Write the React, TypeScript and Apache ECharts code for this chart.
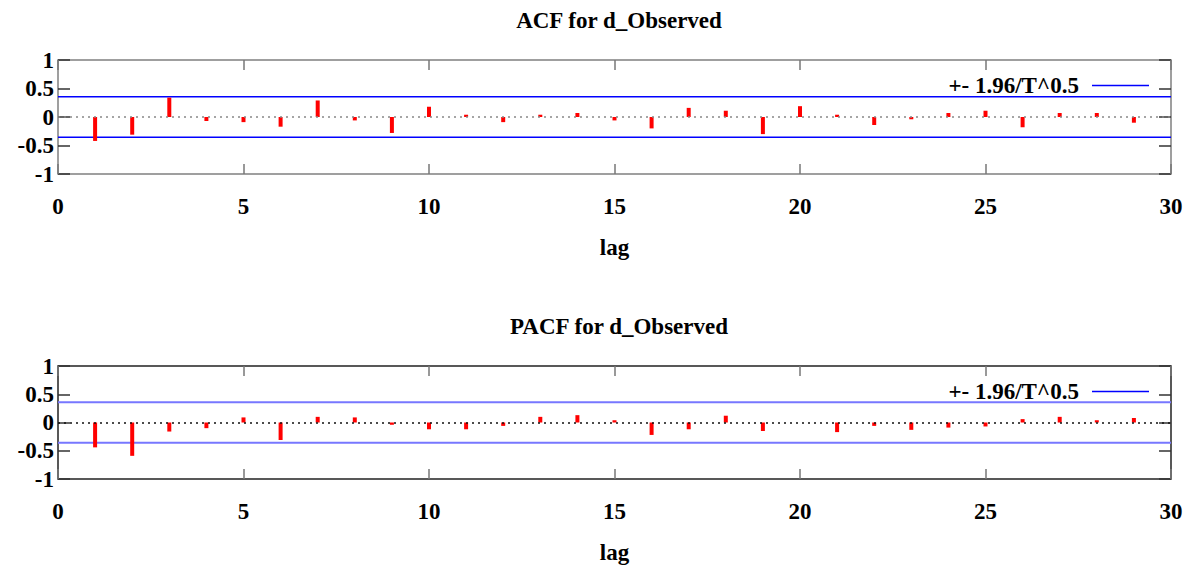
import React, { useEffect, useRef } from "react";
import * as echarts from "echarts";

const LAGS = [1, 2, 3, 4, 5, 6, 7, 8, 9, 10, 11, 12, 13, 14, 15, 16, 17, 18, 19, 20, 21, 22, 23, 24, 25, 26, 27, 28, 29];
const ACF_VALUES = [-0.42, -0.31, 0.34, -0.07, -0.09, -0.17, 0.29, -0.06, -0.28, 0.18, 0.04, -0.09, 0.04, 0.07, -0.06, -0.2, 0.16, 0.11, -0.3, 0.19, 0.04, -0.14, -0.04, 0.07, 0.11, -0.18, 0.07, 0.07, -0.1];
const PACF_VALUES = [-0.44, -0.59, -0.16, -0.1, 0.09, -0.31, 0.1, 0.09, -0.04, -0.12, -0.12, -0.06, 0.1, 0.13, 0.04, -0.22, -0.12, 0.12, -0.15, 0.0, -0.17, -0.06, -0.13, -0.09, -0.07, 0.06, 0.1, 0.04, 0.08];
const BAND = 0.357;
const X_RANGE = [0, 30];
const Y_RANGE = [-1, 1];
const TITLES = ["ACF for d_Observed", "PACF for d_Observed"];
const BAND_NAME = "+- 1.96/T^0.5";
const X_NAME = "lag";

const FONT = "Liberation Serif";

export default function App() {
  const ref = useRef<HTMLDivElement>(null);
  useEffect(() => {
    if (!ref.current) return;
    const chart = echarts.init(ref.current, undefined, { renderer: "svg" });
    const grids = [
      { left: 58, top: 60, width: 1113, height: 114 },
      { left: 58, top: 366, width: 1113, height: 113 },
    ];
    const borderColors = ["#808080", "#222"];
    const bandColors = ["#0000ff", "#7777ff"];
    const zeroColors = ["#888", "#111"];
    const textBase = { fontFamily: FONT, fontWeight: "bold" as const, color: "#000", fontSize: 23 };

    const xAxis: any[] = [];
    const yAxis: any[] = [];
    const series: any[] = [];
    const legends: any[] = [];
    const titles: any[] = [];

    [ACF_VALUES, PACF_VALUES].forEach((vals, g) => {
      xAxis.push({
        type: "value", gridIndex: g, min: X_RANGE[0], max: X_RANGE[1], interval: 5, position: "bottom",
        axisLine: { show: false, onZero: false }, splitLine: { show: false },
        axisTick: { show: true, inside: true, length: 10, lineStyle: { color: "#777", width: 1.5 } },
        axisLabel: { ...textBase, margin: 21 },
        name: X_NAME, nameLocation: "middle", nameGap: 62, nameTextStyle: { ...textBase },
      });
      xAxis.push({
        type: "value", gridIndex: g, min: X_RANGE[0], max: X_RANGE[1], interval: 5, position: "top",
        axisLine: { show: false, onZero: false }, splitLine: { show: false },
        axisTick: { show: true, inside: true, length: 10, lineStyle: { color: "#777", width: 1.5 } },
        axisLabel: { show: false },
      });
      yAxis.push({
        type: "value", gridIndex: g, min: Y_RANGE[0], max: Y_RANGE[1], interval: 0.5, position: "left",
        axisLine: { show: false, onZero: false }, splitLine: { show: false },
        axisTick: { show: true, inside: true, length: 12, lineStyle: { color: "#333", width: 1.5 } },
        axisLabel: { ...textBase, margin: 4 },
      });
      yAxis.push({
        type: "value", gridIndex: g, min: Y_RANGE[0], max: Y_RANGE[1], interval: 0.5, position: "right",
        axisLine: { show: false, onZero: false }, splitLine: { show: false },
        axisTick: { show: true, inside: true, length: 12, lineStyle: { color: "#333", width: 1.5 } },
        axisLabel: { show: false },
      });
      series.push({
        type: "bar", xAxisIndex: g * 2, yAxisIndex: g * 2, barWidth: 4,
        data: LAGS.map((l, i) => [l, vals[i]]),
        itemStyle: { color: "#ff0000" },
        markLine: {
          silent: true, symbol: ["none", "none"], label: { show: false },
          lineStyle: { type: [2, 4], color: zeroColors[g], width: 1.5 },
          data: [{ yAxis: 0 }],
        },
        z: 3,
      });
      [BAND, -BAND].forEach((b) => {
        series.push({
          type: "line", name: BAND_NAME, xAxisIndex: g * 2, yAxisIndex: g * 2,
          data: [[X_RANGE[0], b], [X_RANGE[1], b]],
          symbol: "none", showSymbol: false,
          lineStyle: { color: bandColors[g], width: g === 0 ? 1.5 : 2 },
          itemStyle: { color: bandColors[g] },
          z: 2,
        });
      });
      legends.push({
        show: true, data: [{ name: BAND_NAME, icon: "rect" }], right: 44, top: grids[g].top + 14,
        align: "right", itemWidth: 57, itemHeight: 1.5, selectedMode: false, padding: 0,
        textStyle: { ...textBase, padding: [0, 8, 0, 0] },
      });
      titles.push({
        text: TITLES[g], left: 614, textAlign: "center", top: g === 0 ? 4 : 310,
        textStyle: { ...textBase },
      });
    });

    chart.setOption({
      animation: false,
      backgroundColor: "#fff",
      title: titles,
      legend: legends,
      grid: grids.map((gr, i) => ({ ...gr, show: true, borderColor: borderColors[i], borderWidth: 1.5, backgroundColor: "transparent" })),
      xAxis,
      yAxis,
      series,
    });
    return () => chart.dispose();
  }, []);
  return (
    <div
      ref={ref}
      style={{ position: "fixed", left: 0, top: 0, width: 1193, height: 570, background: "#fff" }}
    />
  );
}
